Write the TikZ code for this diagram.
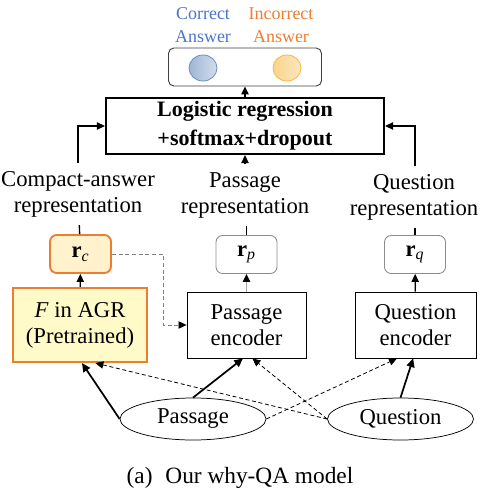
\documentclass[tikz,border=0pt]{standalone}
\usepackage{fontspec}
\setmainfont{Liberation Serif}
\usetikzlibrary{arrows.meta,shapes.geometric}
\definecolor{cblue}{HTML}{4A74CC}
\definecolor{corange}{HTML}{ED7D31}
\definecolor{yelfill}{HTML}{FFF2CC}
\definecolor{yelfillb}{HTML}{FFFAC8}
\definecolor{bcirc}{HTML}{6C8EBF}
\definecolor{ocirc}{HTML}{F5B942}
\tikzset{
  txt/.style={font=\fontsize{17}{19.5}\selectfont, align=center},
  boxn/.style={draw, rectangle, inner sep=0pt, line width=0.65pt, align=center, font=\fontsize{17}{19.5}\selectfont},
  rnode/.style={boxn, draw=gray!90, rounded corners=5pt, minimum width=45.75pt, minimum height=28.5pt},
  orangebox/.style={draw=corange, line width=1.6pt},
  ell/.style={draw, ellipse, inner sep=0pt, line width=0.55pt, minimum width=109.5pt, minimum height=31.5pt, font=\fontsize{17}{19.5}\selectfont},
  arr/.style={-{Triangle[length=6pt,width=5.5pt]}, line width=1pt},
  thickarr/.style={-{Triangle[length=6.5pt,width=6pt]}, line width=1.3pt},
  dsh/.style={-{Triangle[length=6pt,width=5.5pt,color=black]}, line width=0.6pt, dash pattern=on 3pt off 2pt},
}
\begin{document}
\begin{tikzpicture}[x=0.75pt,y=-0.75pt]
\useasboundingbox (0,0) rectangle (482,496);

% top labels
\node[font=\fontsize{13.5}{17}\selectfont, align=center, text=cblue] (lcor) at (203,25) {Correct\\Answer};
\node[font=\fontsize{13.5}{17}\selectfont, align=center, text=corange] (linc) at (281,25) {Incorrect\\Answer};

% output box
\node[draw=black!75, line width=0.7pt, rounded corners=4pt, minimum width=114.75pt, minimum height=28.5pt, inner sep=0pt] (out) at (245,67) {};
\node[ellipse, draw=bcirc, line width=0.6pt, left color=bcirc!65, right color=bcirc!30, minimum width=21pt, minimum height=19.5pt, inner sep=0pt] (cb) at (203,68) {};
\node[ellipse, draw=ocirc, line width=0.6pt, left color=ocirc!60, right color=ocirc!35, minimum width=21pt, minimum height=19.5pt, inner sep=0pt] (co) at (287,68) {};

% logistic regression
\node[boxn, line width=1.6pt, minimum width=208.5pt, minimum height=42pt, font=\fontsize{16.5}{21.5}\selectfont\bfseries] (lr) at (245,126) {Logistic regression\\+softmax+dropout};

% representation labels
\node[txt, inner ysep=6pt] (labc) at (78,194) {Compact-answer\\representation};
\node[txt, inner ysep=6pt] (labp) at (245,195) {Passage\\representation};
\node[txt, inner ysep=6pt] (labq) at (414,197) {Question\\representation};

% r nodes
\node[rnode, fill=yelfill, draw=corange, line width=1.4pt] (rc) at (80.5,254) {\textbf{r}\textsubscript{\textit{c}}};
\node[rnode] (rp) at (246.5,254.5) {\textbf{r}\textsubscript{\textit{p}}};
\node[rnode] (rq) at (415,254.5) {\textbf{r}\textsubscript{\textit{q}}};

% encoders
\node[boxn, orangebox, fill=yelfillb, minimum width=100.5pt, minimum height=55.5pt] (F) at (80,325) {\textit{F} in AGR\\(Pretrained)};
\node[boxn, minimum width=89.25pt, minimum height=49.5pt] (pe) at (246.5,325) {Passage\\encoder};
\node[boxn, minimum width=90.75pt, minimum height=49.5pt] (qe) at (415.5,325) {Question\\encoder};

% inputs
\node[ell] (pas) at (193,419) {Passage};
\node[ell] (que) at (400.5,419) {Question};

% caption
\node[font=\fontsize{17.5}{20}\selectfont] (cap) at (240,478) {(a)\hspace{0.55em}Our why-QA model};

% connectors top
\draw[arr] (lr) -- (out);
\draw[line width=1pt] (rc) -- (labc);
\draw[arr] (labc.north) |- (lr.west);
\draw[line width=1pt] (rp) -- (rp |- labp.south);
\draw[arr] (labp) -- (lr);
\draw[line width=1pt] (rq) -- (rq |- labq.south);
\draw[arr] (rq |- labq.north) |- (lr.east);

% encoder to r
\draw[arr] (F) -- (rc);
\draw[line width=1pt, draw=gray!70, -{Triangle[length=6pt,width=5.5pt,color=black]}] (pe) -- (rp);
\draw[arr] (qe) -- (rq);

% rc to passage encoder dashed
\coordinate (bend) at (163,254);
\draw[dsh, draw=gray] (rc.east) -- (bend) |- (pe.west);

% inputs to encoders
\draw[thickarr] (pas.west) -- (F.-87);
\draw[thickarr] (pas.north) -- (pe.-96);
\draw[thickarr] (que.north) -- (qe.-94);
\draw[dsh] (que.west) -- (F.-68);
\draw[dsh] (que.west) -- (pe.-80);
\draw[dsh] (pas.east) -- (qe.-119);
\end{tikzpicture}
\end{document}
